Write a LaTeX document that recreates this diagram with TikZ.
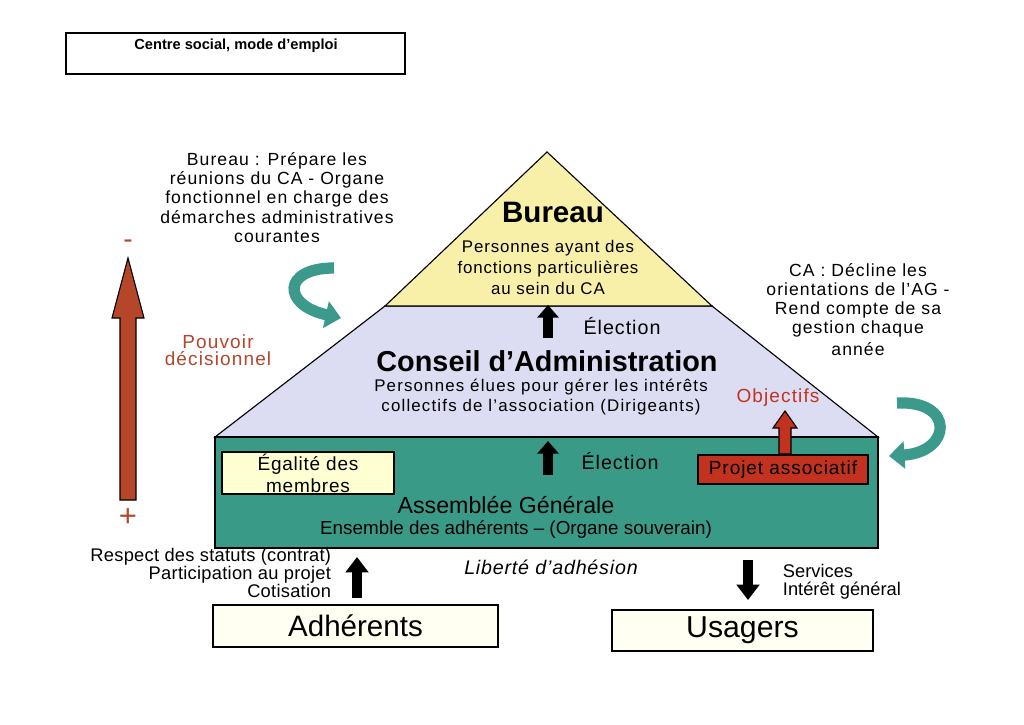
\documentclass[tikz,border=0pt]{standalone}
\usepackage{fontspec}
\setmainfont{Liberation Sans}
\usetikzlibrary{arrows.meta,calc}
\definecolor{agteal}{HTML}{3A9A88}
\definecolor{curvteal}{HTML}{3C9A8C}
\definecolor{calav}{HTML}{DCDCF2}
\definecolor{buryel}{HTML}{F8F0A8}
\definecolor{egalyel}{HTML}{FFFFD2}
\definecolor{cream}{HTML}{FFFFF2}
\definecolor{projred}{HTML}{C2321F}
\definecolor{brownred}{HTML}{B5462A}
\newcommand\fsz[2]{\fontsize{#1}{#2}\selectfont}
\newcommand\lsp[1]{\addfontfeatures{LetterSpace=#1}}
\tikzset{
  plainbox/.style={draw=black, thick, inner sep=0pt},
  blackarrow/.style={draw=black, line width=7pt, -{Triangle[width=15pt,length=9pt]}},
  curvarrow/.style={draw=curvteal, line width=8pt, -{Triangle[width=19pt,length=11pt]}},
  anno/.style={align=center, font=\fsz{12.5}{13.6}\lsp{6}},
}
\begin{document}
\begin{tikzpicture}[x=0.025cm,y=-0.025cm]
\useasboundingbox (0,0) rectangle (1024,724);
\fill[white] (0,0) rectangle (1024,724);

% title
\node[plainbox, minimum width=8.475cm, minimum height=1.025cm] (title) at (235.5,53.5) {};
\node[font=\bfseries\fsz{10.4}{12}] (titletxt) at (236,46) {Centre social, mode d’emploi};

% pyramid
\coordinate (apex) at (547,152);
\coordinate (bl) at (385,306);
\coordinate (br) at (712,306);
\coordinate (cl) at (215,437);
\coordinate (cr) at (878,437);
\filldraw[fill=calav, draw=black, thick] (bl) -- (br) -- (cr) -- (cl) -- cycle;
\filldraw[fill=buryel, draw=black, thick] (apex) -- (br) -- (bl) -- cycle;
\filldraw[fill=agteal, draw=black, thick] (215,437) rectangle (878,548);

% bureau texts
\node[font=\bfseries\fsz{21}{23}] (bureau) at (553,212) {Bureau};
\node[align=center, font=\fsz{12}{15}\lsp{5}] (burtxt) at (548,267.5) {Personnes ayant des\\fonctions particulières\\au sein du CA};

% CA texts
\node[font=\bfseries\fsz{20.5}{22}, inner sep=0.5pt] (ca) at (547,361) {Conseil d’Administration};
\node[align=center, font=\fsz{12}{14.2}\lsp{7}, inner sep=0.5pt] (catxt) at (541,397) {Personnes élues pour gérer les intérêts\\collectifs de l’association (Dirigeants)};

% election arrows
\coordinate (e1s) at (548,338);
\coordinate (e1t) at (548,305);
\draw[blackarrow] (e1s) -- (e1t);
\node[font=\fsz{14}{16}\lsp{5}] (el1) at (622,326) {Élection};
\coordinate (e2s) at (548,475);
\coordinate (e2t) at (548,441);
\draw[blackarrow] (e2s) -- (e2t);
\node[font=\fsz{14}{16}\lsp{5}] (el2) at (620,461) {Élection};

% AG boxes
\node[plainbox, fill=egalyel, minimum width=4.3cm, minimum height=1.05cm, align=center, font=\fsz{13.5}{15.5}\lsp{4}] (egal) at (308,473) {Égalité des\\membres};
\node[plainbox, fill=projred, minimum width=4.25cm, minimum height=0.725cm, font=\fsz{13.5}{15}\lsp{5}] (projet) at (783,469.5) {Projet associatif};
\node[font=\fsz{16.5}{18}] (ag) at (506,505) {Assemblée Générale};
\node[font=\fsz{13.4}{15}] (agtxt) at (516,530) {Ensemble des adhérents – (Organe souverain)};

% objectifs
\node[text=projred, font=\fsz{13.5}{15}\lsp{6}] (obj) at (778,398) {Objectifs};
\filldraw[fill=projred, draw=black, thick] (779,454) -- (779,428) -- (773,428) -- (785,411) -- (797,428) -- (791,428) -- (791,454) -- cycle;

% left power arrow
\filldraw[fill=brownred, draw=black, thick] (120,500) -- (120,318) -- (112,318) -- (128,258) -- (144,318) -- (136,318) -- (136,500) -- cycle;
\node[text=brownred, font=\fsz{20}{22}] (minus) at (128,244) {-};
\node[text=brownred, font=\fsz{22}{24}] (plus) at (128,518) {+};
\node[text=brownred, align=center, font=\fsz{13.5}{12.5}\lsp{6}] (pouvoir) at (218,350) {Pouvoir\\décisionnel};

% annotations
\node[anno] (annoB) at (277,197.5) {Bureau : Prépare les\\réunions du CA - Organe\\fonctionnel en charge des\\démarches administratives\\courantes};
\node[anno] (annoC) at (858,309.5) {CA : Décline les\\orientations de l’AG -\\Rend compte de sa\\gestion chaque\\[2pt]année};

% curved arrows
\coordinate (c1s) at (334,268);
\coordinate (c1t) at (341,318);
\draw[curvarrow] (c1s) .. controls (282,268) and (282,305) .. (c1t);
\coordinate (c2s) at (897,403);
\coordinate (c2t) at (889,456);
\draw[curvarrow] (c2s) .. controls (955,400) and (952,452) .. (c2t);

% bottom
\node[align=right, anchor=east, font=\fsz{13}{12.6}\lsp{1.5}] (resp) at (336,573) {Respect des statuts (contrat)\\Participation au projet\\Cotisation};
\node[font=\itshape\fsz{14}{16}\lsp{4}] (lib) at (551,567) {Liberté d’adhésion};
\node[align=left, anchor=west, font=\fsz{13}{12.6}] (serv) at (778,581.5) {Services\\Intérêt général};

\node[plainbox, fill=cream, minimum width=7.125cm, minimum height=1.05cm, font=\fsz{21}{23}] (adh) at (355.5,626) {Adhérents};
\node[plainbox, fill=cream, minimum width=6.525cm, minimum height=1.025cm, font=\fsz{21.5}{23}] (usa) at (742.5,630.5) {Usagers};

\coordinate (a1s) at (357,598);
\coordinate (a1t) at (357,557);
\draw[blackarrow, line width=7.5pt, -{Triangle[width=16pt,length=11pt]}] (a1s) -- (a1t);
\coordinate (a2s) at (748,560);
\coordinate (a2t) at (748,600);
\draw[blackarrow, line width=7.5pt, -{Triangle[width=16pt,length=11pt]}] (a2s) -- (a2t);
\end{tikzpicture}
\end{document}
